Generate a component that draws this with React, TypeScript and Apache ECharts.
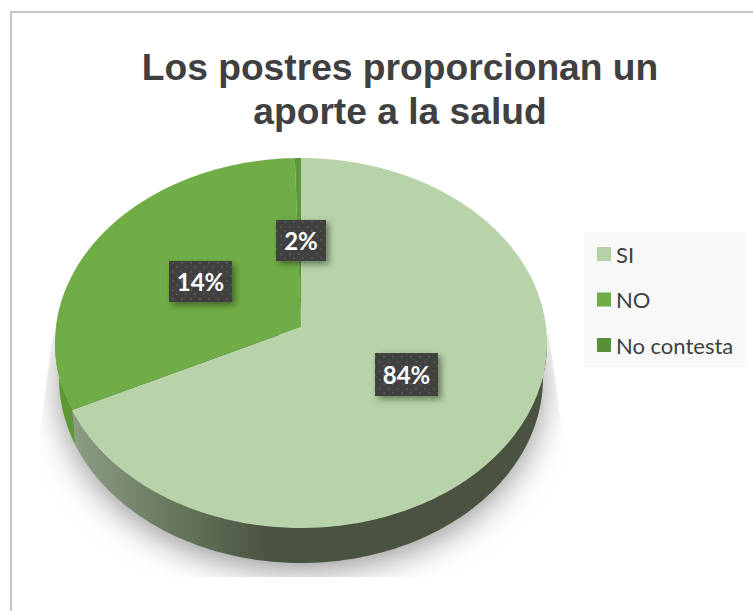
import React, { useEffect, useRef } from "react";
import * as echarts from "echarts";

const titleLines = ["Los postres proporcionan un", "aporte a la salud"];
const categories = ["SI", "NO", "No contesta"];
const percentLabels = ["84%", "14%", "2%"];
// Shares of the circle as drawn in the picture (they differ from the printed labels).
const drawnShares = [69.1, 30.5, 0.4];
const sliceColors = ["#b8d2aa", "#70ad47", "#5f953b"];
const legendColors = ["#b5cfa7", "#70ad47", "#5a8f3a"];

const G = { cx: 301, cy: 343, rx: 246, ry: 185, apexY: 327, lowCy: 378, lowRx: 242 };
const labelBoxes = [
  { x: 375, y: 353, w: 63, h: 43 },
  { x: 169, y: 261, w: 63, h: 41 },
  { x: 276, y: 220, w: 50, h: 41 },
];

function rimPoints(cy: number, rx: number, ry: number, fromDeg: number, toDeg: number) {
  const pts: number[][] = [];
  const n = Math.max(2, Math.ceil(Math.abs(toDeg - fromDeg)));
  for (let i = 0; i <= n; i++) {
    const a = ((fromDeg + ((toDeg - fromDeg) * i) / n) * Math.PI) / 180;
    pts.push([G.cx + rx * Math.sin(a), cy - ry * Math.cos(a)]);
  }
  return pts;
}
const startDeg = (i: number) => (drawnShares.slice(0, i).reduce((a, b) => a + b, 0) * 360) / 100;

function makeDots() {
  const c = document.createElement("canvas");
  c.width = 9;
  c.height = 9;
  const g = c.getContext("2d")!;
  g.fillStyle = "#3f3f3f";
  g.fillRect(0, 0, 9, 9);
  g.fillStyle = "#525252";
  g.fillRect(1, 1, 2, 2);
  g.fillRect(5, 5, 2, 2);
  return c;
}

export default function App() {
  const ref = useRef<HTMLDivElement>(null);
  useEffect(() => {
    document.body.style.margin = "0";
    const chart = echarts.init(ref.current!, undefined, { renderer: "svg" });
    const dots = makeDots();
    const wallEnd = startDeg(1);
    const option: any = {
      animation: false,
      backgroundColor: "#ffffff",
      title: {
        text: titleLines.join("\n"),
        left: 400,
        top: 45,
        padding: 0,
        textAlign: "center",
        textStyle: { fontFamily: "Liberation Sans", fontWeight: "bold", fontSize: 37.2, lineHeight: 44, color: "#404040" },
      },
      legend: {
        orient: "vertical",
        left: 597,
        top: 243,
        padding: 0,
        itemGap: 23.5,
        itemWidth: 14,
        itemHeight: 14,
        icon: "rect",
        selectedMode: false,
        textStyle: { fontFamily: "Lato", fontSize: 22, color: "#404040", padding: [0, 0, 4, 0] },
        data: categories.map((name, i) => ({ name, itemStyle: { color: legendColors[i] } })),
      },
      graphic: [
        { type: "line", z: -1, shape: { x1: 10, y1: 12, x2: 753, y2: 12 }, style: { stroke: "#c6c6c6", lineWidth: 2 } },
        { type: "line", z: -1, shape: { x1: 11, y1: 11, x2: 11, y2: 611 }, style: { stroke: "#c6c6c6", lineWidth: 2 } },
        { type: "rect", z: -1, shape: { x: 584, y: 232, width: 161, height: 135 }, style: { fill: "#f8f8f8" } },
      ],
      series: [
        {
          type: "custom",
          name: "base",
          coordinateSystem: "none",
          silent: true,
          data: [0],
          renderItem: () => ({
            type: "group",
            children: [
              {
                type: "ellipse",
                shape: { cx: G.cx, cy: G.lowCy - 2, rx: G.lowRx - 2, ry: G.ry - 2 },
                style: { fill: "#4a5241", shadowBlur: 34, shadowOffsetY: 10, shadowColor: "#8f8f8f" },
                clipPath: {
                  type: "polygon",
                  shape: {
                    points: [
                      [53, 335],
                      [549, 335],
                      [562, 430],
                      [562, 577],
                      [40, 577],
                      [40, 430],
                    ],
                  },
                },
              },
              {
                type: "polygon",
                shape: {
                  points: [
                    ...rimPoints(G.cy, G.rx, G.ry, wallEnd, 272),
                    ...rimPoints(G.lowCy, G.lowRx, G.ry, 272, wallEnd),
                  ],
                },
                style: { fill: "#5b9a33" },
              },
              {
                type: "polygon",
                shape: {
                  points: [
                    ...rimPoints(G.cy, G.rx, G.ry, 90, wallEnd),
                    ...rimPoints(G.lowCy, G.lowRx, G.ry, wallEnd, 90),
                  ],
                },
                style: {
                  fill: new echarts.graphic.LinearGradient(
                    70, 0, 270, 0,
                    [
                      { offset: 0, color: "#8c9f85" },
                      { offset: 0.55, color: "#65755c" },
                      { offset: 1, color: "#4a5241" },
                    ],
                    true,
                  ),
                },
              },
            ],
          }),
        },
        ...categories.map((name, i) => ({
          type: "custom",
          name,
          coordinateSystem: "none",
          silent: true,
          itemStyle: { color: sliceColors[i] },
          data: [drawnShares[i]],
          renderItem: (_: any, api: any) => {
            const from = startDeg(i);
            const to = from + (api.value(0) * 360) / 100;
            return {
              type: "polygon",
              shape: { points: [[G.cx, G.apexY], ...rimPoints(G.cy, G.rx, G.ry, from, to)] },
              style: { fill: sliceColors[i] },
            };
          },
        })),
        {
          type: "custom",
          name: "labels",
          coordinateSystem: "none",
          silent: true,
          z: 5,
          data: percentLabels.map((_, i) => i),
          renderItem: (p: any) => {
            const i = p.dataIndex;
            const b = labelBoxes[i];
            return {
              type: "group",
              children: [
                {
                  type: "rect",
                  shape: { x: b.x, y: b.y, width: b.w, height: b.h },
                  style: {
                    fill: { image: dots, repeat: "repeat" },
                    shadowBlur: 6,
                    shadowOffsetX: 3,
                    shadowOffsetY: 3,
                    shadowColor: "rgba(30,50,20,0.55)",
                  },
                },
                {
                  type: "text",
                  x: b.x + b.w / 2,
                  y: b.y + b.h / 2,
                  style: {
                    text: percentLabels[i],
                    fill: "#ffffff",
                    font: "bold 24px Lato",
                    align: "center",
                    verticalAlign: "middle",
                  },
                },
              ],
            };
          },
        },
      ],
    };
    chart.setOption(option);
    return () => chart.dispose();
  }, []);
  return <div ref={ref} style={{ width: 753, height: 611 }} />;
}
